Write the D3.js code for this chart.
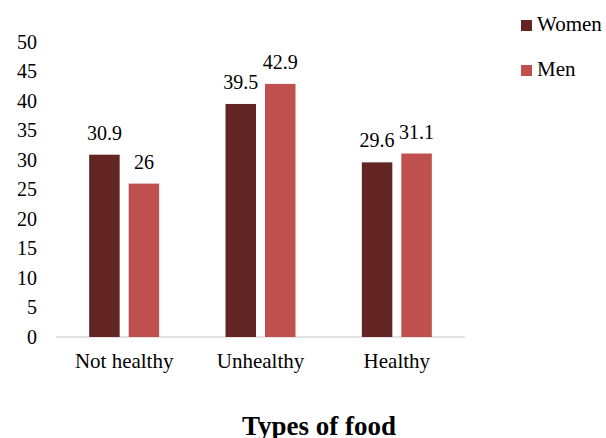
<!DOCTYPE html>
<meta charset="utf-8">
<style>
    body { margin: 0; background: #fff; }
    .axis .domain { display: none; }
</style>
<svg width="606" height="438"></svg>
<script src="https://d3js.org/d3.v7.min.js"></script>
<script>

    var categories = ["Not healthy", "Unhealthy", "Healthy"];
    var series = ["Women", "Men"];
    var women = [30.9, 39.5, 29.6];
    var men = [26, 42.9, 31.1];
    var yTicks = [0, 5, 10, 15, 20, 25, 30, 35, 40, 45, 50];

    var colors = { Women: "#632523", Men: "#c0504d" };
    var serif = "'Liberation Serif', 'Times New Roman', serif";

    var svg = d3.select("svg");

    var x0 = d3.scaleBand().domain(categories).range([56, 465]).padding(0);
    var groupW = 70;
    var x1 = d3.scaleBand().domain(series).range([0, groupW]).paddingInner(0.228).paddingOuter(0);
    var y = d3.scaleLinear().domain([0, 50]).range([337, 42]);

    var rows = categories.map(function (c, i) {
        return { cat: c, values: [{ key: "Women", v: women[i] }, { key: "Men", v: men[i] }] };
    });

    // y axis labels only
    svg.append("g")
        .attr("class", "axis")
        .attr("transform", "translate(56,0)")
        .call(d3.axisLeft(y).tickValues(yTicks).tickSize(0).tickPadding(19))
        .selectAll("text")
        .attr("fill", "#000")
        .style("font-size", "20px")
        .style("font-family", serif);

    // baseline
    svg.append("line")
        .attr("x1", 56).attr("x2", 465)
        .attr("y1", y(0)).attr("y2", y(0))
        .attr("stroke", "#d9d9d9")
        .attr("stroke-width", 1.5);

    var group = svg.selectAll(".grp")
        .data(rows)
        .enter().append("g")
        .attr("class", "grp")
        .attr("transform", function (d) { return "translate(" + (x0(d.cat) + (x0.bandwidth() - groupW) / 2) + ",0)"; });

    group.selectAll("rect")
        .data(function (d) { return d.values; })
        .enter().append("rect")
        .attr("x", function (d) { return x1(d.key); })
        .attr("y", function (d) { return y(d.v); })
        .attr("width", x1.bandwidth())
        .attr("height", function (d) { return y(0) - y(d.v); })
        .attr("fill", function (d) { return colors[d.key]; });

    group.selectAll(".val")
        .data(function (d) { return d.values; })
        .enter().append("text")
        .attr("class", "val")
        .attr("x", function (d) { return x1(d.key) + x1.bandwidth() / 2; })
        .attr("y", function (d) { return y(d.v) - 15; })
        .attr("text-anchor", "middle")
        .style("font-size", "20px")
        .style("font-family", serif)
        .text(function (d) { return d.v; });

    // x axis category labels
    svg.append("g")
        .attr("class", "axis")
        .attr("transform", "translate(0," + y(0) + ")")
        .call(d3.axisBottom(x0).tickSize(0).tickPadding(16))
        .selectAll("text")
        .attr("fill", "#000")
        .style("font-size", "21px")
        .style("font-family", serif);

    // axis title
    svg.append("text")
        .attr("x", 319)
        .attr("y", 435)
        .attr("text-anchor", "middle")
        .style("font-size", "27px")
        .style("font-weight", "bold")
        .style("font-family", serif)
        .text("Types of food");

    // legend
    var legend = svg.selectAll(".leg")
        .data(series)
        .enter().append("g")
        .attr("class", "leg")
        .attr("transform", function (d, i) { return "translate(521," + (20 + i * 45) + ")"; });

    legend.append("rect")
        .attr("width", 11).attr("height", 11)
        .attr("fill", function (d) { return colors[d]; });

    legend.append("text")
        .attr("x", 16)
        .attr("y", 11)
        .style("font-size", "21px")
        .style("font-family", serif)
        .text(function (d) { return d; });

</script>
